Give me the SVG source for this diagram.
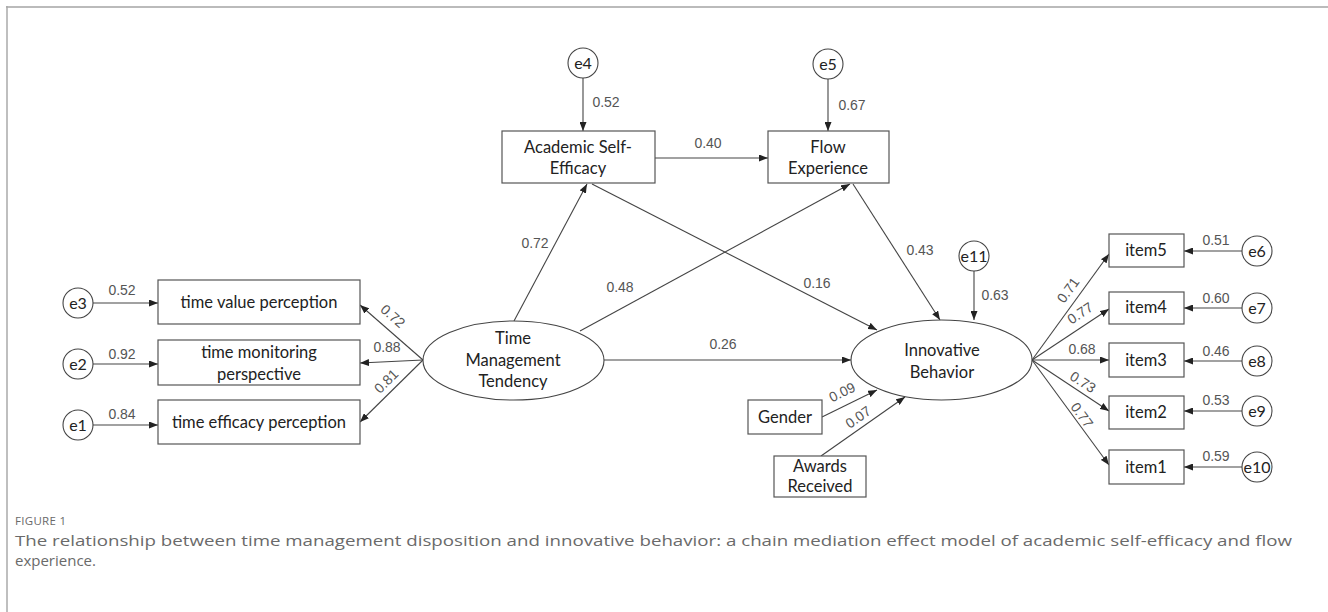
<svg xmlns="http://www.w3.org/2000/svg" width="1328" height="612" viewBox="0 0 1328 612">
<style>
.box{fill:#fff;stroke:#555;stroke-width:1.2}
.err{fill:#fff;stroke:#444;stroke-width:1.1}
.lat{fill:#fff;stroke:#444;stroke-width:1.1}
.nt{font-family:Lato,"Open Sans",sans-serif;font-size:16.5px;fill:#222;text-anchor:middle}
.et{font-family:Lato,"Open Sans",sans-serif;font-size:16px;fill:#222;text-anchor:middle}
.lb{font-family:"Liberation Sans",Arial,sans-serif;font-size:14px;fill:#555;text-anchor:middle}
.cn{fill:none;stroke:#444;stroke-width:1.1;marker-end:url(#ah)}
.cap{font-family:"Open Sans","Noto Sans",sans-serif;fill:#6a6a6a}
</style>
<defs>
<marker id="ah" viewBox="0 0 9 7" refX="9" refY="3.5" markerWidth="9" markerHeight="7" orient="auto" markerUnits="userSpaceOnUse">
<path d="M0,0 L9,3.5 L0,7 z" fill="#222"/>
</marker>
</defs>
<rect width="1328" height="612" fill="#fff"/>
<g id="frame">
<line x1="6" y1="7" x2="1328" y2="7" stroke="#bbb" stroke-width="2"/>
<line x1="7" y1="6" x2="7" y2="612" stroke="#aaa" stroke-width="1.5"/>
</g>
<g id="connectors">
<line class="cn" x1="93" y1="303" x2="158" y2="303"/>
<line class="cn" x1="93" y1="364" x2="158" y2="364"/>
<line class="cn" x1="93" y1="425" x2="158" y2="425"/>
<line class="cn" x1="423" y1="360" x2="360" y2="305"/>
<line class="cn" x1="423" y1="360" x2="360" y2="363"/>
<line class="cn" x1="423" y1="360" x2="360" y2="422"/>
<line class="cn" x1="583" y1="78" x2="583" y2="131"/>
<line class="cn" x1="828" y1="79" x2="828" y2="131"/>
<line class="cn" x1="655" y1="158" x2="768" y2="158"/>
<line class="cn" x1="514" y1="321" x2="587" y2="184"/>
<line class="cn" x1="580" y1="331" x2="850" y2="184"/>
<line class="cn" x1="592" y1="184" x2="877" y2="330"/>
<line class="cn" x1="853" y1="184" x2="940" y2="320"/>
<line class="cn" x1="604" y1="360" x2="851" y2="360"/>
<line class="cn" x1="974" y1="271" x2="974" y2="320"/>
<line class="cn" x1="822" y1="417" x2="877" y2="390"/>
<line class="cn" x1="821" y1="456" x2="905" y2="397"/>
<line class="cn" x1="1032" y1="360" x2="1109" y2="254"/>
<line class="cn" x1="1032" y1="360" x2="1109" y2="309"/>
<line class="cn" x1="1032" y1="360" x2="1109" y2="360"/>
<line class="cn" x1="1032" y1="360" x2="1109" y2="411"/>
<line class="cn" x1="1032" y1="360" x2="1109" y2="465"/>
<line class="cn" x1="1242" y1="251" x2="1184" y2="251"/>
<line class="cn" x1="1242" y1="308" x2="1184" y2="308"/>
<line class="cn" x1="1242" y1="361" x2="1184" y2="361"/>
<line class="cn" x1="1242" y1="411" x2="1184" y2="411"/>
<line class="cn" x1="1242" y1="467" x2="1184" y2="467"/>
</g>
<g id="labels">
<text class="lb" x="122" y="295">0.52</text>
<text class="lb" x="122" y="359">0.92</text>
<text class="lb" x="122" y="419">0.84</text>
<text class="lb" transform="translate(393,316) rotate(41.6)" y="5">0.72</text>
<text class="lb" x="387" y="352">0.88</text>
<text class="lb" transform="translate(386,381) rotate(-45)" y="5">0.81</text>
<text class="lb" x="606" y="107">0.52</text>
<text class="lb" x="852" y="110">0.67</text>
<text class="lb" x="708" y="148">0.40</text>
<text class="lb" x="535" y="248">0.72</text>
<text class="lb" x="620" y="292">0.48</text>
<text class="lb" x="817" y="288">0.16</text>
<text class="lb" x="920" y="255">0.43</text>
<text class="lb" x="723" y="349">0.26</text>
<text class="lb" x="995" y="300">0.63</text>
<text class="lb" transform="translate(842,392) rotate(-26)" y="5">0.09</text>
<text class="lb" transform="translate(858,417) rotate(-35)" y="5">0.07</text>
<text class="lb" transform="translate(1068,290) rotate(-54)" y="5">0.71</text>
<text class="lb" transform="translate(1080,313) rotate(-34)" y="5">0.77</text>
<text class="lb" x="1082" y="354">0.68</text>
<text class="lb" transform="translate(1083,382) rotate(33)" y="5">0.73</text>
<text class="lb" transform="translate(1082,415) rotate(54)" y="5">0.77</text>
<text class="lb" x="1216" y="245">0.51</text>
<text class="lb" x="1216" y="303">0.60</text>
<text class="lb" x="1216" y="356">0.46</text>
<text class="lb" x="1216" y="405">0.53</text>
<text class="lb" x="1216" y="461">0.59</text>
</g>
<g id="e3"><circle class="err" cx="78" cy="303" r="15"/><text class="et" x="78" y="308.5">e3</text></g>
<g id="e2"><circle class="err" cx="78" cy="364" r="15"/><text class="et" x="78" y="369.5">e2</text></g>
<g id="e1"><circle class="err" cx="78" cy="425" r="15"/><text class="et" x="78" y="430.5">e1</text></g>
<g id="time-value"><rect class="box" x="158" y="280" width="202" height="44"/><text class="nt" x="259" y="308">time value perception</text></g>
<g id="time-monitoring"><rect class="box" x="158" y="340" width="202" height="45"/><text class="nt" x="259" y="358">time monitoring</text><text class="nt" x="259" y="380">perspective</text></g>
<g id="time-efficacy"><rect class="box" x="158" y="400" width="202" height="44"/><text class="nt" x="259" y="428">time efficacy perception</text></g>
<g id="tmt"><ellipse class="lat" cx="513.5" cy="360.5" rx="90.5" ry="39.5"/><text class="nt" x="513" y="344">Time</text><text class="nt" x="513" y="366">Management</text><text class="nt" x="513" y="387">Tendency</text></g>
<g id="e4"><circle class="err" cx="583" cy="63" r="15"/><text class="et" x="583" y="68.5">e4</text></g>
<g id="e5"><circle class="err" cx="828" cy="64" r="15"/><text class="et" x="828" y="69.5">e5</text></g>
<g id="ase"><rect class="box" x="502" y="131" width="153" height="52"/><text class="nt" x="578" y="153">Academic Self-</text><text class="nt" x="578" y="174">Efficacy</text></g>
<g id="flow"><rect class="box" x="768" y="131" width="121" height="52"/><text class="nt" x="828" y="153">Flow</text><text class="nt" x="828" y="174">Experience</text></g>
<g id="e11"><circle class="err" cx="974" cy="256" r="15"/><text class="et" x="974" y="261.5">e11</text></g>
<g id="ib"><ellipse class="lat" cx="941.5" cy="360" rx="90.5" ry="40"/><text class="nt" x="942" y="356">Innovative</text><text class="nt" x="942" y="378">Behavior</text></g>
<g id="gender"><rect class="box" x="748" y="400" width="74" height="34"/><text class="nt" x="785" y="423">Gender</text></g>
<g id="awards"><rect class="box" x="774" y="456" width="92" height="41"/><text class="nt" x="820" y="472">Awards</text><text class="nt" x="820" y="492">Received</text></g>
<g id="item5"><rect class="box" x="1109" y="234" width="75" height="33"/><text class="nt" x="1146" y="256">item5</text></g>
<g id="item4"><rect class="box" x="1109" y="292" width="75" height="32"/><text class="nt" x="1146" y="313">item4</text></g>
<g id="item3"><rect class="box" x="1109" y="343" width="75" height="34"/><text class="nt" x="1146" y="365.5">item3</text></g>
<g id="item2"><rect class="box" x="1109" y="396" width="75" height="33"/><text class="nt" x="1146" y="418">item2</text></g>
<g id="item1"><rect class="box" x="1109" y="450" width="75" height="34"/><text class="nt" x="1146" y="472.5">item1</text></g>
<g id="e6"><circle class="err" cx="1257" cy="251" r="15"/><text class="et" x="1257" y="256.5">e6</text></g>
<g id="e7"><circle class="err" cx="1257" cy="308" r="15"/><text class="et" x="1257" y="313.5">e7</text></g>
<g id="e8"><circle class="err" cx="1257" cy="361" r="15"/><text class="et" x="1257" y="366.5">e8</text></g>
<g id="e9"><circle class="err" cx="1257" cy="411" r="15"/><text class="et" x="1257" y="416.5">e9</text></g>
<g id="e10"><circle class="err" cx="1257" cy="467" r="15"/><text class="et" x="1257" y="472.5" font-size="15">e10</text></g>
<g id="caption">
<text class="cap" x="15" y="525" font-size="11.5" letter-spacing="0.3">FIGURE 1</text>
<text class="cap" x="15" y="546" font-size="15" textLength="1277" lengthAdjust="spacingAndGlyphs">The relationship between time management disposition and innovative behavior: a chain mediation effect model of academic self-efficacy and flow</text>
<text class="cap" x="15" y="566" font-size="15">experience.</text>
</g>
</svg>
